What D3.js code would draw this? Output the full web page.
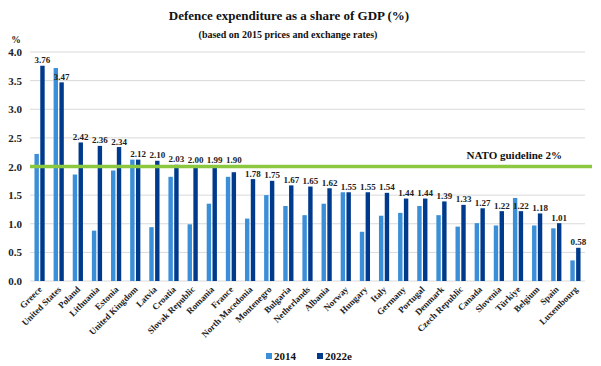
<!DOCTYPE html>
<html>
<head>
<meta charset="utf-8">
<script src="https://cdn.jsdelivr.net/npm/d3@7"></script>
<style>
body { margin: 0; background: #fff; }
text { font-family: "Liberation Serif", "DejaVu Serif", serif; font-weight: bold; }
</style>
</head>
<body>
<svg id="chart" width="601" height="366"></svg>
<script>
const countries = ["Greece","United States","Poland","Lithuania","Estonia","United Kingdom","Latvia","Croatia","Slovak Republic","Romania","France","North Macedonia","Montenegro","Bulgaria","Netherlands","Albania","Norway","Hungary","Italy","Germany","Portugal","Denmark","Czech Republic","Canada","Slovenia","Türkiye","Belgium","Spain","Luxembourg"];
const values2014 = [2.22,3.72,1.86,0.88,1.93,2.12,0.94,1.82,0.99,1.35,1.82,1.09,1.50,1.31,1.15,1.35,1.55,0.86,1.14,1.19,1.31,1.15,0.95,1.01,0.97,1.45,0.97,0.92,0.36];
const values2022 = [3.76,3.47,2.42,2.36,2.34,2.12,2.10,2.03,2.00,1.99,1.90,1.78,1.75,1.67,1.65,1.62,1.55,1.55,1.54,1.44,1.44,1.39,1.33,1.27,1.22,1.22,1.18,1.01,0.58];
const yTicks = [0,0.5,1.0,1.5,2.0,2.5,3.0,3.5,4.0];
const seriesNames = ["2014","2022e"];
const guideline = 2.0;
const guidelineLabel = "NATO guideline 2%";

const colors = ["#3a8fd8","#003a8c"];
const svg = d3.select("#chart");
const m = {left: 30, right: 16, top: 52, bottom: 85};
const W = 601, H = 366;
const x = d3.scaleBand().domain(countries).range([m.left, W - m.right]).paddingInner(0).paddingOuter(0);
const y = d3.scaleLinear().domain([0, 4]).range([H - m.bottom, m.top]);

// title
svg.append("text").attr("x", 289).attr("y", 20).attr("text-anchor", "middle")
  .attr("font-size", 13).attr("fill", "#111").text("Defence expenditure as a share of GDP (%)");
svg.append("text").attr("x", 288).attr("y", 38).attr("text-anchor", "middle")
  .attr("font-size", 10).attr("fill", "#111").text("(based on 2015 prices and exchange rates)");
svg.append("text").attr("x", 16).attr("y", 43).attr("text-anchor", "middle")
  .attr("font-size", 9.5).attr("fill", "#222").text("%");

// gridlines
svg.append("g").selectAll("line").data(yTicks).join("line")
  .attr("x1", m.left).attr("x2", W - m.right)
  .attr("y1", d => y(d)).attr("y2", d => y(d))
  .attr("stroke", "#d9d9d9").attr("stroke-width", 1);

// y axis labels
const yAxis = d3.axisLeft(y).tickValues(yTicks).tickFormat(d3.format(".1f")).tickSize(0).tickPadding(8);
const ya = svg.append("g").attr("transform", `translate(${m.left},0)`).call(yAxis);
ya.select(".domain").remove();
ya.selectAll("text").attr("font-size", 11).attr("fill", "#222")
  .style("font-family", "'Liberation Serif', serif").style("font-weight", "bold");

// bars
const bw = 4.4, gap = 1.4;
const bandC = d => x(d) + x.bandwidth() / 2;
const g = svg.append("g");
g.selectAll(".b14").data(countries).join("rect")
  .attr("x", d => bandC(d) - gap / 2 - bw)
  .attr("y", (d, i) => y(values2014[i]))
  .attr("width", bw)
  .attr("height", (d, i) => y(0) - y(values2014[i]))
  .attr("fill", colors[0]);
g.selectAll(".b22").data(countries).join("rect")
  .attr("x", d => bandC(d) + gap / 2)
  .attr("y", (d, i) => y(values2022[i]))
  .attr("width", bw)
  .attr("height", (d, i) => y(0) - y(values2022[i]))
  .attr("fill", colors[1]);

// value labels (kept clear of the guideline)
const labelY = v => {
  const base = y(v) - 2.5;
  return Math.abs(v - guideline) < 0.15 ? Math.min(base, y(guideline) - 3.5) : base;
};
g.selectAll(".lab").data(countries).join("text")
  .attr("x", d => bandC(d) + gap / 2 + bw / 2)
  .attr("y", (d, i) => labelY(values2022[i]))
  .attr("text-anchor", "middle")
  .attr("font-size", 9)
  .attr("fill", "#222")
  .text((d, i) => d3.format(".2f")(values2022[i]));

// guideline
svg.append("line").attr("x1", m.left).attr("x2", 592)
  .attr("y1", y(guideline)).attr("y2", y(guideline))
  .attr("stroke", "#8cc83f").attr("stroke-width", 3.5);
svg.append("text").attr("x", 562).attr("y", y(guideline) - 8).attr("text-anchor", "end")
  .attr("font-size", 11).attr("fill", "#111").text(guidelineLabel);

// x labels
const xAxis = d3.axisBottom(x).tickSize(0).tickPadding(0);
const xa = svg.append("g").attr("transform", `translate(0,${y(0)})`).call(xAxis);
xa.select(".domain").remove();
xa.selectAll("text")
  .attr("text-anchor", "end")
  .attr("transform", "translate(3,9) rotate(-45)")
  .attr("dy", 0).attr("y", 0)
  .attr("font-size", 9).attr("fill", "#222")
  .style("font-family", "'Liberation Serif', serif").style("font-weight", "bold");

// legend
const leg = svg.append("g");
const legX = [266, 317];
seriesNames.forEach((s, i) => {
  leg.append("rect").attr("x", legX[i]).attr("y", 353).attr("width", 6).attr("height", 6).attr("fill", colors[i]);
  leg.append("text").attr("x", legX[i] + 8).attr("y", 360).attr("font-size", 11).attr("fill", "#111").text(s);
});
</script>
</body>
</html>
